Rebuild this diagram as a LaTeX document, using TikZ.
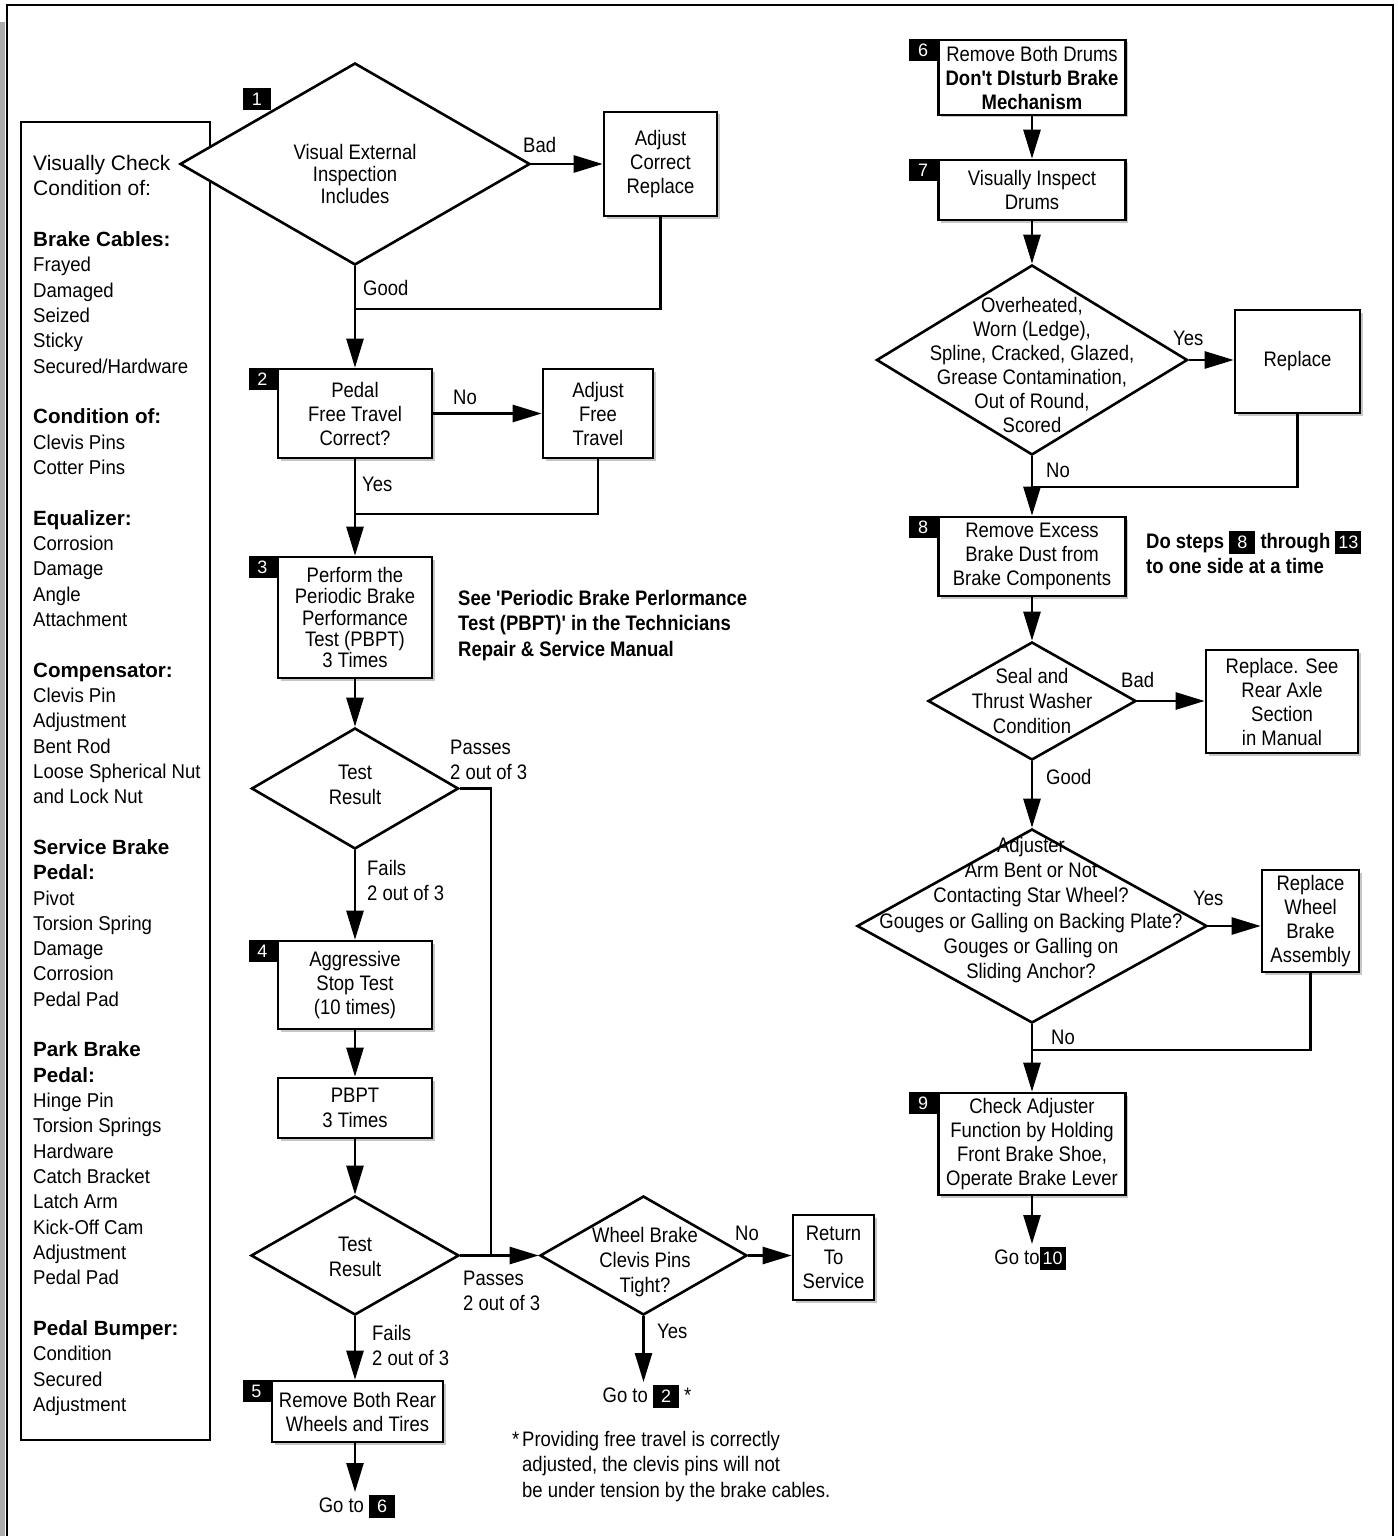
\documentclass[tikz,border=0pt]{standalone}
\usepackage{fontspec}
\setmainfont{Liberation Sans}
\newfontfamily\cond[FakeStretch=0.88]{Liberation Sans}
\newfontfamily\condl[FakeStretch=0.93]{Liberation Sans}
\usetikzlibrary{shapes.geometric,arrows.meta,shadows}
\newcommand{\ftxt}{\cond\fontsize{21}{24}\selectfont}
\newcommand{\fnum}{\rmfamily\mdseries\fontsize{18}{18}\selectfont}
\newcommand{\nb}[1]{{\setlength{\fboxsep}{3pt}\colorbox{black}{\rule[-3pt]{0pt}{17pt}\makebox[20pt]{\textcolor{white}{\rmfamily\mdseries\fontsize{18}{18}\selectfont #1}}}}}
\newcommand{\hd}[1]{{\rmfamily\bfseries\fontsize{20.6}{25.33}\selectfont #1}}
\tikzset{
  box/.style={draw, line width=2.6pt, fill=white, inner sep=0pt, align=center, font=\ftxt,
    drop shadow={shadow xshift=2.5pt, shadow yshift=-2.5pt, fill=gray!45, opacity=1}},
  dia/.style={draw, diamond, line width=2.6pt, fill=white, inner sep=0pt},
  dtext/.style={inner sep=0pt, align=center},
  lbl/.style={font=\ftxt, inner sep=0pt, anchor=west, align=left},
  arr/.style={line width=2.6pt, -{Triangle[length=29pt,width=17pt]}},
  ln/.style={line width=2.6pt},
  num/.style={fill=black, text=white, minimum width=28pt, minimum height=22pt, inner sep=0pt, font=\fnum, anchor=north east},
  goto/.style={font=\ftxt, inner sep=0pt, anchor=north},
}
\begin{document}
\begin{tikzpicture}[x=1pt,y=-1pt]
\useasboundingbox (0,0) rectangle (1397,1536);
% outer frame
\fill[gray!65] (0,22) rectangle (5,1536);
\draw[line width=2pt] (7,1536) -- (7,5) -- (1393,5) -- (1393,1536);

% left check list box
\node[draw, line width=2.8pt, minimum width=189pt, minimum height=1318pt, inner sep=0pt] (checks) at (115.5,781) {};
\node[anchor=north west, inner sep=0pt, align=left, font=\condl\fontsize{20}{25.33}\selectfont] (ltxt) at (33,155) {%
{\rmfamily\fontsize{21}{25.33}\selectfont Visually Check}\\
{\rmfamily\fontsize{21}{25.33}\selectfont Condition of:}\\[25.33pt]
\hd{Brake Cables:}\\
Frayed\\Damaged\\Seized\\Sticky\\Secured/Hardware\\[25.33pt]
\hd{Condition of:}\\
Clevis Pins\\Cotter Pins\\[25.33pt]
\hd{Equalizer:}\\
Corrosion\\Damage\\Angle\\Attachment\\[25.33pt]
\hd{Compensator:}\\
Clevis Pin\\Adjustment\\Bent Rod\\Loose Spherical Nut\\and Lock Nut\\[25.33pt]
\hd{Service Brake}\\
\hd{Pedal:}\\
Pivot\\Torsion Spring\\Damage\\Corrosion\\Pedal Pad\\[25.33pt]
\hd{Park Brake}\\
\hd{Pedal:}\\
Hinge Pin\\Torsion Springs\\Hardware\\Catch Bracket\\Latch Arm\\Kick-Off Cam\\Adjustment\\Pedal Pad\\[25.33pt]
\hd{Pedal Bumper:}\\
Condition\\Secured\\Adjustment};

% ---------- left flow ----------
\node[dia, minimum width=350pt, minimum height=202pt] (d1) at (355,164) {};
\node[dtext, font=\cond\fontsize{21}{22}\selectfont] (d1t) at (355,174) {Visual External\\Inspection\\Includes};
\node[num] (n1) at (271,88) {1};

\node[box, minimum width=113pt, minimum height=104pt] (adj1) at (660.5,164) {Adjust\\Correct\\Replace};
\node[box, minimum width=154pt, minimum height=89pt] (b2) at (355,413.5) {Pedal\\Free Travel\\Correct?};
\node[num] (n2) at (b2.north west) {2};
\node[box, minimum width=110pt, minimum height=89pt] (adj2) at (598,413.5) {Adjust\\Free\\Travel};
\node[box, minimum width=154pt, minimum height=121pt, font=\cond\fontsize{21}{21.25}\selectfont] (b3) at (355,617.5) {Perform the\\Periodic Brake\\Performance\\Test (PBPT)\\3 Times};
\node[num] (n3) at (b3.north west) {3};
\node[anchor=west, inner sep=0pt, align=left, font=\cond\bfseries\fontsize{21}{25.5}\selectfont] (note1) at (458,625.5) {See 'Periodic Brake Perlormance\\Test (PBPT)' in the Technicians\\Repair \& Service Manual};

\node[dia, minimum width=207pt, minimum height=121pt] (d2) at (355,788.5) {};
\node[dtext, font=\cond\fontsize{21}{25}\selectfont] (d2t) at (355,784.5) {Test\\Result};
\node[box, minimum width=154pt, minimum height=88pt] (b4) at (355,985) {Aggressive\\Stop Test\\(10 times)};
\node[num] (n4) at (b4.north west) {4};
\node[box, minimum width=154pt, minimum height=60pt, font=\cond\fontsize{21}{25}\selectfont] (pbpt) at (355,1108) {PBPT\\3 Times};
\node[dia, minimum width=208pt, minimum height=119pt] (d3) at (355,1255.5) {};
\node[dtext, font=\cond\fontsize{21}{25}\selectfont] (d3t) at (355,1256.5) {Test\\Result};
\node[box, minimum width=171pt, minimum height=61pt] (b5) at (357.5,1411.5) {Remove Both Rear\\Wheels and Tires};
\node[num] (n5) at (b5.north west) {5};
\node[goto] (go6) at (357,1495) {Go to \nb{6}};

\node[dia, minimum width=207pt, minimum height=119pt] (dw) at (643.5,1255.5) {};
\node[dtext, font=\cond\fontsize{21}{25}\selectfont] (dwt) at (645,1262) {Wheel Brake\\Clevis Pins\\Tight?};
\node[box, minimum width=81pt, minimum height=85pt] (ret) at (833.5,1257.5) {Return\\To\\Service};
\node[goto] (go2) at (647,1385) {Go to \nb{2} *};
\node[anchor=west, inner sep=0pt, align=left, font=\cond\fontsize{21}{25.5}\selectfont] (foot) at (522,1466.5) {\llap{*\hspace{3pt}}Providing free travel is correctly\\adjusted, the clevis pins will not\\be under tension by the brake cables.};

% junction coordinates
\coordinate (j1) at (355,309);
\coordinate (j2) at (355,514);
\coordinate (j3) at (491,1255.5);

% connectors left
\draw[arr] (d1.east) -- (adj1.west);
\draw[ln] (adj1.south) |- (j1);
\draw[arr] (d1.south) -- (b2.north);
\draw[arr] (b2.east) -- (b2.east -| adj2.west);
\draw[ln] (adj2.south) |- (j2);
\draw[arr] (b2.south) -- (b3.north);
\draw[arr] (b3.south) -- (d2.north);
\draw[ln] (d2.east) -| (j3);
\draw[arr] (d2.south) -- (b4.north);
\draw[arr] (b4.south) -- (pbpt.north);
\draw[arr] (pbpt.south) -- (d3.north);
\draw[arr] (d3.east) -- (dw.west);
\draw[arr] (d3.south) -- (d3.south |- b5.north);
\draw[arr] (b5.south -| d3.south) -- ([yshift=3pt]d3.south |- go6.north);
\draw[arr] (dw.east) -- (dw.east -| ret.west);
\draw[arr] (dw.south) -- ([yshift=3pt]dw.south |- go2.north);

% labels left
\node[lbl] (lbad1) at (523,145) {Bad};
\node[lbl] (lgood1) at (363,288) {Good};
\node[lbl] (lno2) at (453,397) {No};
\node[lbl] (lyes2) at (362,484) {Yes};
\node[lbl, font=\cond\fontsize{21}{25}\selectfont] (lpass1) at (450,759.5) {Passes\\2 out of 3};
\node[lbl, font=\cond\fontsize{21}{25}\selectfont] (lfail1) at (367,880.5) {Fails\\2 out of 3};
\node[lbl, font=\cond\fontsize{21}{25}\selectfont] (lpass2) at (463,1290.5) {Passes\\2 out of 3};
\node[lbl, font=\cond\fontsize{21}{25}\selectfont] (lfail2) at (372,1345.5) {Fails\\2 out of 3};
\node[lbl] (lnow) at (735,1233) {No};
\node[lbl] (lyesw) at (657,1331) {Yes};

% ---------- right flow ----------
\node[box, minimum width=187pt, minimum height=75pt] (b6) at (1032,77.5) {Remove Both Drums\\\textbf{Don't DIsturb Brake}\\\textbf{Mechanism}};
\node[num] (n6) at (b6.north west) {6};
\node[box, minimum width=187pt, minimum height=60pt] (b7) at (1032,190) {Visually Inspect\\Drums};
\node[num] (n7) at (b7.north west) {7};
\node[dia, minimum width=311pt, minimum height=190pt] (dbig) at (1032,360) {};
\node[dtext, font=\cond\fontsize{21}{24}\selectfont] (dbigt) at (1032,365) {Overheated,\\Worn (Ledge),\\Spline, Cracked, Glazed,\\Grease Contamination,\\Out of Round,\\Scored};
\node[box, minimum width=125pt, minimum height=103pt] (rep1) at (1297.5,361.5) {Replace};
\node[box, minimum width=187pt, minimum height=79pt] (b8) at (1032,556.5) {Remove Excess\\Brake Dust from\\Brake Components};
\node[num] (n8) at (b8.north west) {8};
\node[anchor=west, inner sep=0pt, align=left, font=\cond\bfseries\fontsize{21}{25}\selectfont] (note2) at (1146,552.5) {Do steps \nb{8} through \nb{13}\\to one side at a time};
\node[dia, minimum width=208pt, minimum height=118pt] (dseal) at (1032,701) {};
\node[dtext, font=\cond\fontsize{21}{25}\selectfont] (dsealt) at (1032,701) {Seal and\\Thrust Washer\\Condition};
\node[box, minimum width=152pt, minimum height=103pt] (rep2) at (1282,701.5) {Replace. See\\Rear Axle\\Section\\in Manual};
\node[dia, minimum width=350pt, minimum height=194pt] (dadj) at (1032,926) {};
\node[dtext, font=\cond\fontsize{21}{25.2}\selectfont] (dadjt) at (1031,910) {Adjuster\\Arm Bent or Not\\Contacting Star Wheel?\\Gouges or Galling on Backing Plate?\\Gouges or Galling on\\Sliding Anchor?};
\node[box, minimum width=97pt, minimum height=102pt] (rep3) at (1310.5,921) {Replace\\Wheel\\Brake\\Assembly};
\node[box, minimum width=187pt, minimum height=102pt] (b9) at (1032,1144) {Check Adjuster\\Function by Holding\\Front Brake Shoe,\\Operate Brake Lever};
\node[num] (n9) at (b9.north west) {9};
\node[goto] (go10) at (1030,1247) {Go to\nb{10}};

\coordinate (j4) at (1032,487);
\coordinate (j5) at (1032,1050);

\draw[arr] (b6.south) -- (b7.north);
\draw[arr] (b7.south) -- (dbig.north);
\draw[arr] (dbig.east) -- (dbig.east -| rep1.west);
\draw[ln] (rep1.south) |- (j4);
\draw[arr] (dbig.south) -- (b8.north);
\draw[arr] (b8.south) -- (dseal.north);
\draw[arr] (dseal.east) -- (dseal.east -| rep2.west);
\draw[arr] (dseal.south) -- (dadj.north);
\draw[arr] (dadj.east) -- (dadj.east -| rep3.west);
\draw[ln] (rep3.south) |- (j5);
\draw[arr] (dadj.south) -- (b9.north);
\draw[arr] (b9.south) -- ([yshift=3pt]b9.south |- go10.north);

\node[lbl] (lyesb) at (1173,338) {Yes};
\node[lbl] (lnob) at (1046,470) {No};
\node[lbl] (lbads) at (1121,680) {Bad};
\node[lbl] (lgoods) at (1046,777) {Good};
\node[lbl] (lyesa) at (1193,898) {Yes};
\node[lbl] (lnoa) at (1051,1037) {No};
\end{tikzpicture}
\end{document}
